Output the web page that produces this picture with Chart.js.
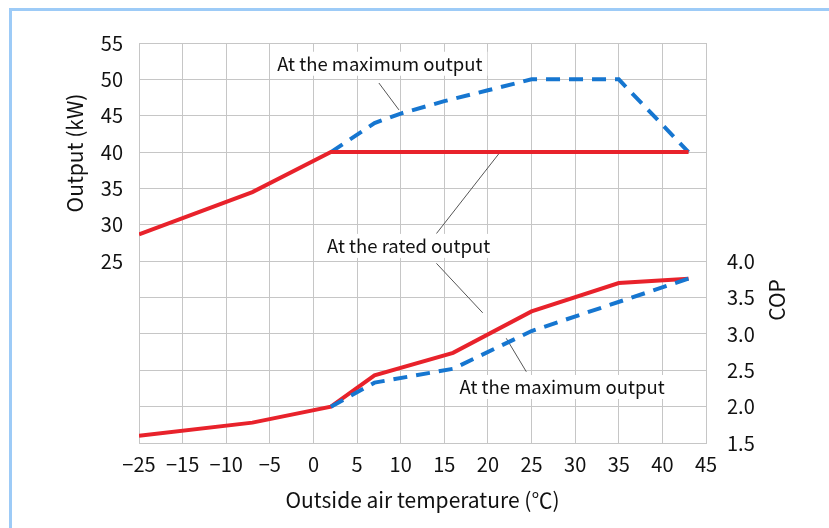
<!DOCTYPE html>
<html><head><meta charset="utf-8">
<script src="https://cdn.jsdelivr.net/npm/chart.js@4"></script>
<style>
html,body{margin:0;padding:0;background:#fff;}
#wrap{position:relative;width:829px;height:528px;overflow:hidden;background:#fff;}
#frame{position:absolute;left:9px;top:8px;right:-10px;bottom:-10px;border-left:3px solid #9dcbf7;border-top:3px solid #9dcbf7;pointer-events:none;}
</style>
</head><body>
<div id="wrap"><canvas id="c" width="829" height="528"></canvas><div id="frame"></div></div>
<script>
// ---- data ----
const xTickLabels = ['−25','−15','−10','−5','0','5','10','15','20','25','30','35','40','45'];
const tempRatedOut = [-25, -7, 2, 43];
const outputRated  = [28.7, 34.5, 40, 40];
const tempMaxOut   = [2, 7, 10, 15, 20, 25, 35, 43];
const outputMax    = [40, 44, 45.3, 47, 48.5, 50, 50, 40];
const tempRatedCop = [-25, -7, 2, 7, 16, 25, 35, 43];
const copRated     = [1.6, 1.78, 2.0, 2.43, 2.74, 3.31, 3.70, 3.76];
const tempMaxCop   = [2, 7, 16, 25, 43];
const copMax       = [2.0, 2.33, 2.52, 3.04, 3.76];

// axis is compressed between -25 and -15 (one grid step of 10 °C)
function axisX(t){ return t < -15 ? -15 + (t + 15) / 2 : t; }
function pts(xs, ys){ return xs.map((t,i)=>({x: axisX(t), y: ys[i]})); }

const FONT = "'Noto Sans CJK JP', 'Noto Sans', sans-serif";
const RED = '#e8222b', BLUE = '#1676d0';

// annotation layout (temperature, kW)
const notes = [
  {text:'At the maximum output', x:7.6, y:52.15, lines:[[7.5,49.5,9.8,45.8]]},
  {text:'At the rated output', x:10.9, y:27.1, lines:[[14.1,28.8,21.4,40],[14.1,24.7,19.4,17.9]]},
  {text:'At the maximum output', x:28.5, y:7.7, lines:[[22.1,14.4,24.4,9.8]]}
];

const annotPlugin = {
  id:'annot',
  beforeDatasetsDraw(chart){
    const ctx = chart.ctx, xs = chart.scales.x, ys = chart.scales.y;
    ctx.save();
    ctx.strokeStyle = '#555'; ctx.lineWidth = 1;
    notes.forEach(n=>{
      n.lines.forEach(l=>{
        ctx.beginPath();
        ctx.moveTo(xs.getPixelForValue(axisX(l[0])), ys.getPixelForValue(l[1]));
        ctx.lineTo(xs.getPixelForValue(axisX(l[2])), ys.getPixelForValue(l[3]));
        ctx.stroke();
      });
    });
    ctx.font = '18.5px ' + FONT;
    ctx.textAlign = 'center'; ctx.textBaseline = 'middle';
    notes.forEach(n=>{
      const cx = xs.getPixelForValue(axisX(n.x)), cy = ys.getPixelForValue(n.y);
      const w = ctx.measureText(n.text).width + 10;
      ctx.fillStyle = '#fff';
      ctx.fillRect(cx - w/2, cy - 12, w, 24);
      ctx.fillStyle = '#111';
      ctx.fillText(n.text, cx, cy);
    });
    ctx.restore();
  },
  afterDraw(chart){
    const ctx = chart.ctx;
    ctx.save();
    ctx.fillStyle = '#111';
    ctx.font = '21px ' + FONT;
    ctx.textAlign = 'center'; ctx.textBaseline = 'middle';
    ctx.translate(75, 153); ctx.rotate(-Math.PI/2);
    ctx.fillText('Output (kW)', 0, 0);
    ctx.restore();
    ctx.save();
    ctx.fillStyle = '#111';
    ctx.font = '21px ' + FONT;
    ctx.textAlign = 'center'; ctx.textBaseline = 'middle';
    ctx.translate(777, 300); ctx.rotate(-Math.PI/2);
    ctx.fillText('COP', 0, 0);
    ctx.restore();
  }
};

const GRID = '#c6c6c6';
const tickFont = {family: FONT, size: 20};

new Chart(document.getElementById('c'), {
  type: 'line',
  data: {
    datasets: [
      {label:'Rated output', data: pts(tempRatedOut, outputRated), yAxisID:'y', borderColor: RED, borderWidth: 4, pointRadius: 0, tension: 0, fill:false},
      {label:'Maximum output', data: pts(tempMaxOut, outputMax), yAxisID:'y', borderColor: BLUE, borderWidth: 4, borderDash:[14,9], pointRadius: 0, tension: 0, fill:false},
      {label:'COP maximum', data: pts(tempMaxCop, copMax), yAxisID:'y1', borderColor: BLUE, borderWidth: 4, borderDash:[14,9], pointRadius: 0, tension: 0, fill:false},
      {label:'COP rated', data: pts(tempRatedCop, copRated), yAxisID:'y1', borderColor: RED, borderWidth: 4, pointRadius: 0, tension: 0, fill:false}
    ]
  },
  options: {
    responsive: false,
    devicePixelRatio: 1,
    animation: false,
    layout: {padding: {top: 43, left: 0, right: 0, bottom: 0}},
    plugins: {legend: {display: false}, tooltip: {enabled: false}},
    scales: {
      x: {
        type: 'linear', min: -20, max: 45,
        ticks: {stepSize: 5, autoSkip: false, maxRotation: 0, padding: 9, color: '#111', font: tickFont,
          callback: v => xTickLabels[Math.round((v + 20) / 5)]},
        grid: {color: GRID, drawTicks: false},
        border: {color: GRID},
        title: {display: true, text: 'Outside air temperature (℃)', color: '#111', font: {family: FONT, size: 21}, padding: {top: 15, bottom: 15}},
        afterFit(s){ s.height = 85; }
      },
      y: {
        position: 'left', min: 0, max: 55,
        ticks: {stepSize: 5, padding: 16, color: '#111', font: tickFont,
          callback: v => v >= 25 ? String(v) : ''},
        grid: {color: GRID, drawTicks: false},
        border: {color: GRID},
        afterFit(s){ s.width = 139; }
      },
      y1: {
        position: 'right', min: 1.5, max: 7.0,
        ticks: {stepSize: 0.5, padding: 21, color: '#111', font: tickFont,
          callback: v => v <= 4.0001 ? v.toFixed(1) : ''},
        grid: {drawOnChartArea: false, drawTicks: false},
        border: {color: GRID},
        afterFit(s){ s.width = 123; }
      }
    }
  },
  plugins: [annotPlugin]
});
</script>
</body></html>
